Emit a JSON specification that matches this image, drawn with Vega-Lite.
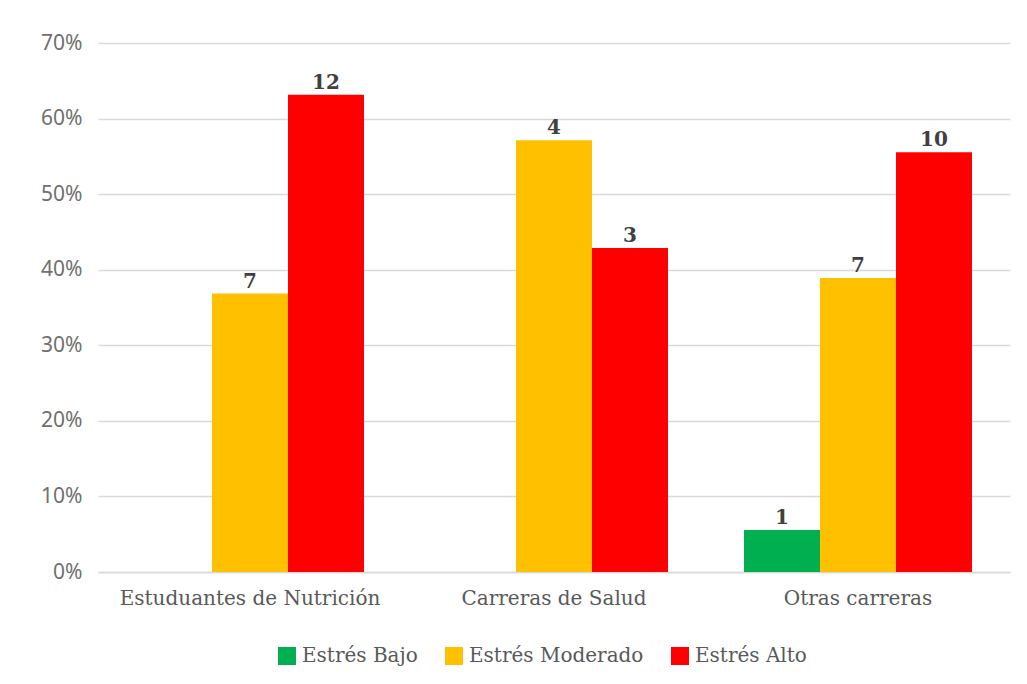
{
  "$schema": "https://vega.github.io/schema/vega-lite/v6.json",
  "autosize": "none",
  "width": 912,
  "height": 529,
  "padding": {"left": 98, "top": 43, "right": 17, "bottom": 112},
  "background": "white",
  "config": {"view": {"stroke": null}},
  "data": {
    "values": [
      {"carrera": "Estuduantes de Nutrición", "nivel": "Estrés Moderado", "pct": 0.3684, "n": 7},
      {"carrera": "Estuduantes de Nutrición", "nivel": "Estrés Alto", "pct": 0.6316, "n": 12},
      {"carrera": "Carreras de Salud", "nivel": "Estrés Moderado", "pct": 0.5714, "n": 4},
      {"carrera": "Carreras de Salud", "nivel": "Estrés Alto", "pct": 0.4286, "n": 3},
      {"carrera": "Otras carreras", "nivel": "Estrés Bajo", "pct": 0.0556, "n": 1},
      {"carrera": "Otras carreras", "nivel": "Estrés Moderado", "pct": 0.3889, "n": 7},
      {"carrera": "Otras carreras", "nivel": "Estrés Alto", "pct": 0.5556, "n": 10}
    ]
  },
  "encoding": {
    "x": {
      "field": "carrera",
      "type": "nominal",
      "sort": ["Estuduantes de Nutrición", "Carreras de Salud", "Otras carreras"],
      "scale": {"paddingInner": 0.25, "paddingOuter": 0.125},
      "axis": {
        "title": null,
        "labelAngle": 0,
        "labelFont": "DejaVu Serif",
        "labelFontSize": 20,
        "labelColor": "#595959",
        "labelPadding": 16,
        "labelLimit": 0,
        "ticks": false,
        "domainColor": "#d9d9d9",
        "domainWidth": 1.5
      }
    },
    "xOffset": {
      "field": "nivel",
      "type": "nominal",
      "scale": {"domain": ["Estrés Bajo", "Estrés Moderado", "Estrés Alto"], "paddingInner": 0, "paddingOuter": 0}
    },
    "y": {
      "field": "pct",
      "type": "quantitative",
      "scale": {"domain": [0, 0.7], "nice": false},
      "axis": {
        "title": null,
        "format": ".0%",
        "values": [0, 0.1, 0.2, 0.3, 0.4, 0.5, 0.6, 0.7],
        "labelFont": "Noto Sans",
        "labelFontSize": 21,
        "labelColor": "#6f6f6f",
        "labelPadding": 16,
        "ticks": false,
        "domain": false,
        "gridColor": "#d9d9d9",
        "gridWidth": 1.5
      }
    }
  },
  "layer": [
    {
      "mark": {"type": "bar"},
      "encoding": {
        "color": {
          "field": "nivel",
          "type": "nominal",
          "scale": {
            "domain": ["Estrés Bajo", "Estrés Moderado", "Estrés Alto"],
            "range": ["#00b050", "#ffc000", "#ff0000"]
          },
          "legend": {
            "title": null,
            "orient": "none",
            "direction": "horizontal",
            "legendX": 179,
            "legendY": 603,
            "symbolType": "square",
            "symbolSize": 324,
            "symbolStrokeWidth": 0,
            "labelFont": "DejaVu Serif",
            "labelFontSize": 20,
            "labelColor": "#595959",
            "labelOffset": 5,
            "labelLimit": 0,
            "columnPadding": 26
          }
        }
      }
    },
    {
      "mark": {
        "type": "text",
        "baseline": "bottom",
        "dy": -2,
        "font": "DejaVu Serif",
        "fontSize": 20,
        "fontWeight": "bold",
        "color": "#404040"
      },
      "encoding": {"text": {"field": "n", "type": "quantitative"}}
    }
  ]
}
